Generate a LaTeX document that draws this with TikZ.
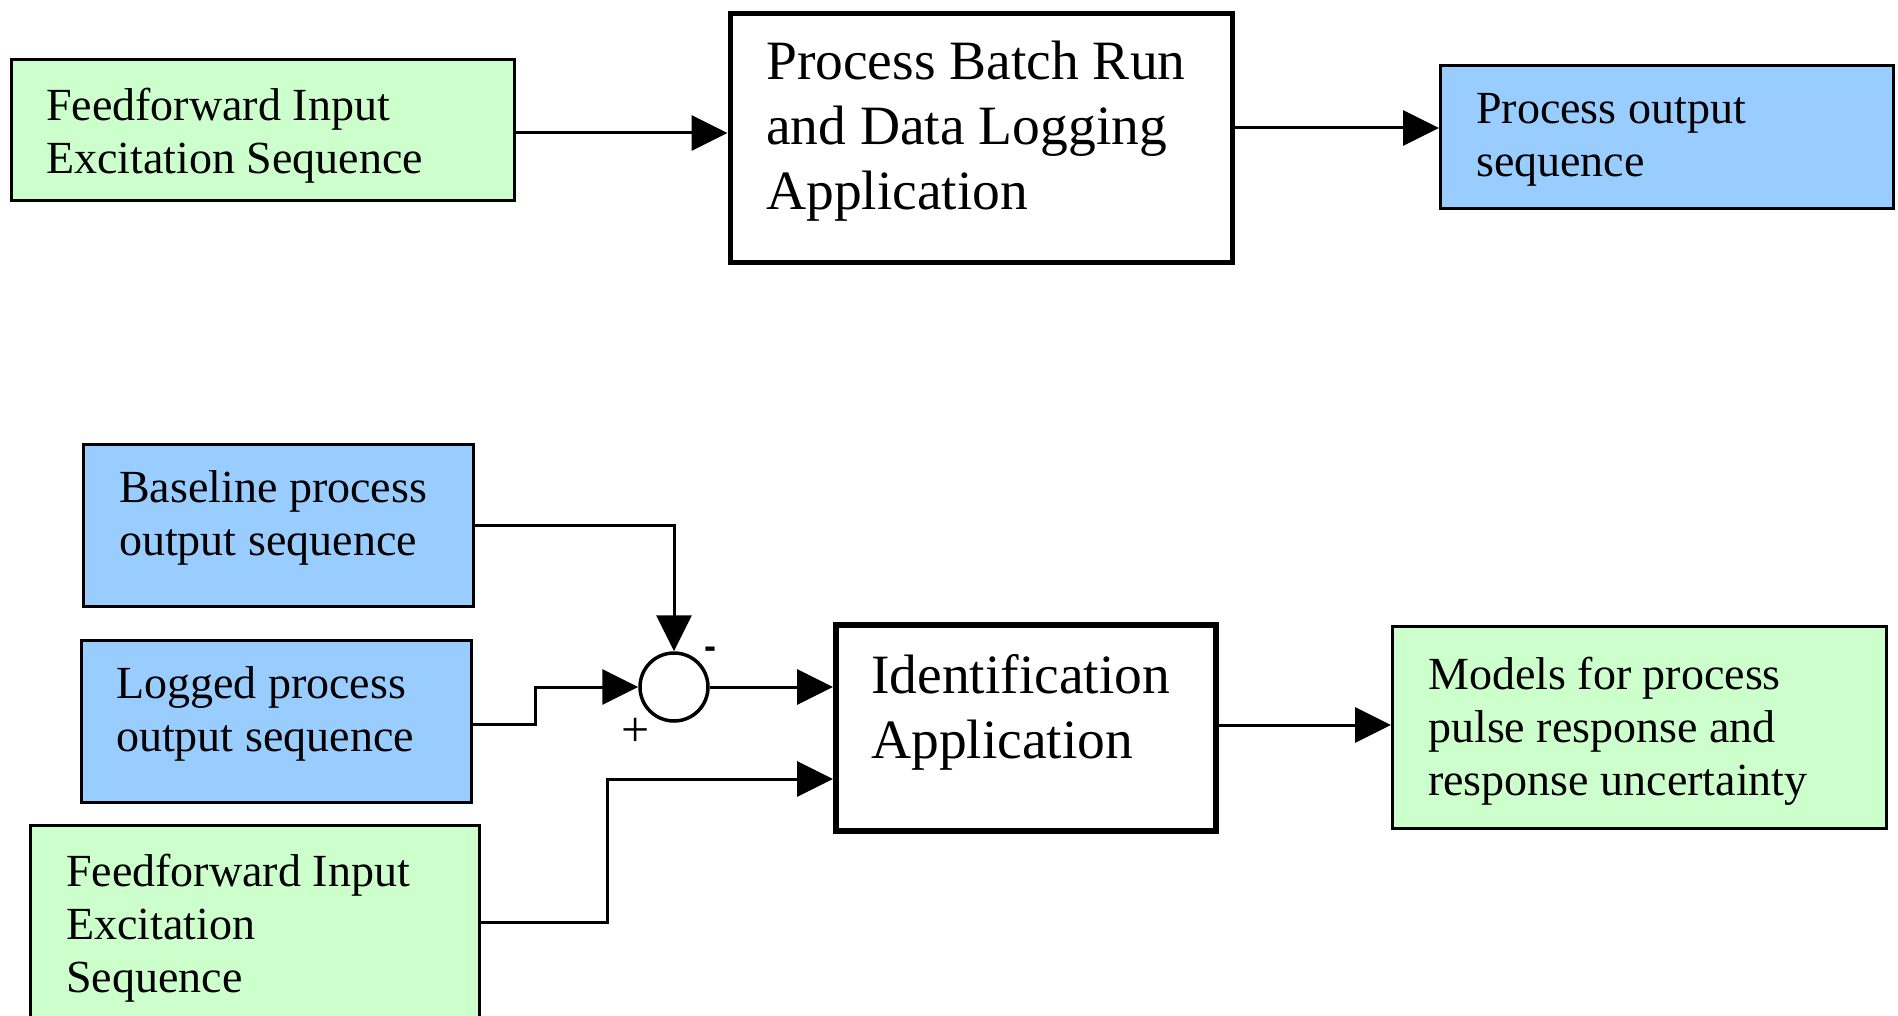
\documentclass[tikz,border=0pt]{standalone}
\usepackage{fontspec}
\setmainfont{Liberation Serif}
\newfontfamily\signfont{Liberation Sans}
\usetikzlibrary{arrows.meta}
\definecolor{boxgreen}{HTML}{CCFFCC}
\definecolor{boxblue}{HTML}{99CCFF}

\begin{document}
\begin{tikzpicture}[x=1pt,y=-1pt,
  blk/.style={draw=black, line width=2.8pt, rectangle, inner sep=0pt, anchor=north west},
  thickblk/.style={draw=black, line width=5.5pt, fill=white, rectangle, inner sep=0pt, anchor=north west},
  % texts are placed by the baseline of their last line
  lbl/.style={anchor=base west, inner sep=0pt, align=left, font=\fontsize{46}{53}\selectfont},
  biglbl/.style={anchor=base west, inner sep=0pt, align=left, font=\fontsize{55.5}{65}\selectfont},
  wire/.style={line width=3pt},
  arr/.style={wire, -{Triangle[length=36pt,width=35pt]}},
]
\useasboundingbox (0,0) rectangle (1898,1016);
\clip (0,0) rectangle (1898,1016);

% ---------- batch run stage ----------
\node[blk, fill=boxgreen, minimum width=503pt, minimum height=141pt] (ffTop) at (9.7,58) {};
\node[lbl] (ffTopT) at (46,174) {Feedforward Input\\Excitation Sequence};

\node[thickblk, minimum width=502pt, minimum height=249pt] (proc) at (727.5,11) {};
\node[biglbl] (procT) at (766,210) {Process Batch Run\\and Data Logging\\Application};

\node[blk, fill=boxblue, minimum width=453pt, minimum height=143pt] (outTop) at (1439,64) {};
\node[lbl] (outTopT) at (1476,177) {Process output\\sequence};

\draw[arr] (ffTop.east |- 0,133) -- (proc.west |- 0,133);
\draw[arr] (proc.east |- 0,128) -- (outTop.west |- 0,128);

% ---------- identification stage ----------
\node[blk, fill=boxblue, minimum width=390pt, minimum height=162pt] (base) at (82,443) {};
\node[lbl] (baseT) at (119,555) {Baseline process\\output sequence};

\node[blk, fill=boxblue, minimum width=390pt, minimum height=162pt] (logged) at (80,639) {};
\node[lbl] (loggedT) at (116,751) {Logged process\\output sequence};

\node[blk, fill=boxgreen, minimum width=449pt, minimum height=220pt] (ffBot) at (29,824) {};
\node[lbl] (ffBotT) at (66,992) {Feedforward Input\\Excitation\\Sequence};

\node[circle, draw=black, line width=3.5pt, fill=white, minimum size=68pt, inner sep=0pt] (sum) at (674,687) {};
\node[inner sep=0pt, font=\signfont\bfseries\fontsize{36}{36}\selectfont] (minus) at (710,653) {-};
\node[inner sep=0pt, font=\fontsize{50}{50}\selectfont] (plus) at (636,732) {+};

\node[thickblk, minimum width=380pt, minimum height=206pt] (ident) at (833,622) {};
\node[biglbl] (identT) at (871,758) {Identification\\Application};

\node[blk, fill=boxgreen, minimum width=494pt, minimum height=202pt] (models) at (1391,625) {};
\node[lbl] (modelsT) at (1428,795) {Models for process\\pulse response and\\response uncertainty};

\draw[arr] (base.east) -- (sum.north |- base.east) -- (sum.north);
\draw[arr] ([yshift=-3pt]logged.east) -- ++(63,0) |- (sum.west);
\draw[arr] (sum.east) -- (sum.east -| ident.west);
\draw[arr] (ffBot.east |- 0,922) -| (607,779) -- (ident.west |- 0,779);
\draw[arr] (ident.east |- 0,725) -- (models.west |- 0,725);
\end{tikzpicture}
\end{document}
